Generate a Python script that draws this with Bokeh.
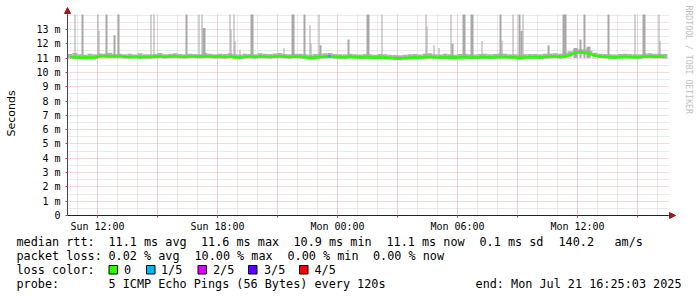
from bokeh.plotting import figure
from bokeh.models import (Range1d, SingleIntervalTicker, FixedTicker, Label, BoxAnnotation,
                          Arrow, NormalHead, LinearAxis, Grid)
from bokeh.embed import file_html
from bokeh.resources import INLINE

# ---------------- data (time in hours since Sun 00:00, values in ms) ----------------
T_START = 10.5          # first bin starts Sun 10:30
BIN_H = 0.25            # 15 minute bins

median_rtt = [
    11.08, 11.06, 11.04, 11.03, 11.05, 11.04,
    11.13, 11.15, 11.12, 11.14, 11.13,
    11.09, 11.08, 11.10, 11.07, 11.09, 11.08,
    11.10, 11.12, 11.09, 11.11, 11.13, 11.10, 11.09, 11.12, 11.11, 11.10, 11.13, 11.12, 11.09,
    11.10, 11.08, 11.11, 11.07, 11.04, 11.09, 11.10, 11.08, 11.12, 11.10, 11.09, 11.11, 11.13, 11.10, 11.08, 11.11,
    11.10, 11.06, 11.02, 11.05, 11.08, 11.10, 11.12, 11.09, 11.07, 11.06, 11.10, 11.08, 11.05, 11.07,
    11.06, 11.04, 11.07, 11.05, 11.02, 11.00, 10.98, 11.01, 11.03, 11.05, 11.04, 11.07, 11.09, 11.06, 11.04, 11.07,
    11.05, 11.03, 11.06, 11.08, 11.05, 11.04, 11.06, 11.08, 11.05, 11.07, 11.09, 11.08, 11.06, 11.05,
    11.02, 11.04, 11.06, 11.07, 11.05, 11.08, 11.10, 11.12, 11.09, 11.13, 11.22, 11.35,
    11.42, 11.38, 11.30, 11.18, 11.12, 11.10,
    11.07, 11.05, 11.08, 11.10, 11.08, 11.06, 11.07, 11.11, 11.12, 11.10, 11.11, 11.09,
]

smoke_high = [
    11.28, 11.35, 11.26, 11.24, 11.30, 11.27,
    11.32, 11.30, 11.38, 11.29, 11.31,
    11.26, 11.30, 11.25, 11.33, 11.27, 11.26,
    11.29, 11.35, 11.27, 11.30, 11.34, 11.28, 11.26, 11.31, 11.29, 11.27, 11.36, 11.30, 11.27,
    11.30, 11.28, 11.33, 11.27, 11.25, 11.31, 11.29, 11.26, 11.34, 11.30, 11.28, 11.32, 11.35, 11.29, 11.27, 11.30,
    11.31, 11.26, 11.24, 11.28, 11.30, 11.33, 11.36, 11.28, 11.26, 11.27, 11.31, 11.27, 11.25, 11.28,
    11.27, 11.24, 11.28, 11.26, 11.23, 11.21, 11.20, 11.24, 11.27, 11.29, 11.25, 11.30, 11.33, 11.27, 11.25, 11.30,
    11.27, 11.24, 11.29, 11.31, 11.26, 11.25, 11.28, 11.30, 11.26, 11.29, 11.32, 11.30, 11.27, 11.26,
    11.23, 11.26, 11.28, 11.29, 11.27, 11.30, 11.32, 11.34, 11.30, 11.36, 11.48, 11.58,
    11.62, 11.60, 11.52, 11.38, 11.30, 11.28,
    11.27, 11.25, 11.29, 11.31, 11.28, 11.26, 11.27, 11.32, 11.33, 11.30, 11.31, 11.28,
]

smoke_low = [
    10.98, 10.95, 10.94, 10.93, 10.95, 10.94,
    11.02, 11.04, 11.01, 11.03, 11.02,
    10.98, 10.97, 10.99, 10.96, 10.98, 10.97,
    10.99, 11.01, 10.98, 11.00, 11.02, 10.99, 10.98, 11.01, 11.00, 10.99, 11.02, 11.01, 10.98,
    10.99, 10.97, 11.00, 10.96, 10.93, 10.98, 10.99, 10.97, 11.01, 10.99, 10.98, 11.00, 11.02, 10.99, 10.97, 11.00,
    10.99, 10.95, 10.91, 10.94, 10.97, 10.99, 11.01, 10.98, 10.96, 10.95, 10.99, 10.97, 10.94, 10.96,
    10.95, 10.93, 10.96, 10.94, 10.91, 10.89, 10.87, 10.90, 10.92, 10.94, 10.93, 10.96, 10.98, 10.95, 10.93, 10.96,
    10.94, 10.92, 10.95, 10.97, 10.94, 10.93, 10.95, 10.97, 10.94, 10.96, 10.98, 10.97, 10.95, 10.94,
    10.91, 10.93, 10.95, 10.96, 10.94, 10.97, 10.99, 11.01, 10.98, 11.02, 11.10, 11.22,
    11.28, 11.25, 11.18, 11.06, 11.01, 10.99,
    10.96, 10.94, 10.97, 10.99, 10.97, 10.95, 10.96, 11.00, 11.01, 10.99, 11.00, 10.98,
]

# lost pings (of 5) per bin
loss = [
    0, 0, 0, 0, 0, 0, 0, 0, 0, 0, 0, 0, 0, 0, 0, 0, 0, 0, 0, 0,
    0, 0, 0, 0, 0, 0, 0, 0, 0, 0, 0, 0, 0, 0, 0, 0, 0, 0, 0, 0,
    0, 0, 0, 0, 0, 0, 0, 0, 0, 0, 0, 0, 1, 0, 0, 0, 0, 0, 0, 0,
    0, 0, 0, 0, 0, 0, 0, 0, 0, 0, 0, 0, 0, 0, 0, 0, 0, 0, 0, 0,
    0, 0, 0, 0, 0, 0, 0, 0, 0, 0, 0, 0, 0, 0, 0, 0, 0, 0, 0, 0,
    0, 0, 0, 0, 0, 0, 0, 0, 0, 0, 0, 0, 0, 0, 0, 0, 0, 0, 0, 0,
]

# slowest-ping spikes (smoke tops; 14.05 = reaches the top of the graph)
spike_start = [10.85, 11.20, 12.00, 12.05, 12.40, 12.80, 13.00, 14.65, 14.80, 16.40,
               17.05, 17.20, 17.25, 18.60, 18.65, 18.80, 18.85, 19.10, 19.65, 21.30,
               21.70, 22.30, 22.60, 22.65, 23.05, 23.10, 24.50, 25.45, 26.20, 28.40,
               28.45, 28.80, 29.05, 29.65, 29.70, 30.25, 30.65, 31.20, 32.10, 32.20,
               32.75, 33.05, 33.15, 33.25, 34.50, 35.25, 35.80, 36.10, 36.30, 36.45,
               37.50, 38.85, 39.25, 40.05, 40.10]
spike_end = [10.90, 11.30, 12.05, 12.10, 12.50, 12.90, 13.10, 14.70, 14.85, 16.50,
             17.10, 17.25, 17.40, 18.65, 18.70, 18.85, 18.90, 19.15, 19.80, 21.35,
             21.85, 22.40, 22.65, 22.70, 23.10, 23.20, 24.60, 25.60, 26.25, 28.45,
             28.50, 28.85, 29.10, 29.70, 29.80, 30.40, 30.80, 31.25, 32.20, 32.25,
             32.80, 33.15, 33.25, 33.30, 34.60, 35.45, 36.00, 36.20, 36.40, 36.65,
             37.60, 38.90, 39.40, 40.10, 40.15]
spike_top = [14.05, 14.05, 14.05, 12.9, 14.05, 12.6, 14.05, 14.05, 14.05, 14.05,
             14.05, 14.05, 13.1, 14.05, 13.0, 14.05, 12.2, 11.6, 14.05, 11.7,
             14.05, 14.05, 13.3, 12.0, 14.05, 11.9, 12.3, 14.05, 14.05, 14.05,
             13.2, 11.9, 11.7, 14.05, 12.0, 14.05, 14.05, 12.2, 14.05, 12.2,
             14.05, 14.05, 12.9, 14.05, 11.9, 14.05, 11.7, 12.3, 14.05, 11.8,
             14.05, 14.05, 14.05, 14.05, 12.2]

y_ticks = [0, 1, 2, 3, 4, 5, 6, 7, 8, 9, 10, 11, 12, 13]
y_tick_labels = ["0", "1 m", "2 m", "3 m", "4 m", "5 m", "6 m", "7 m", "8 m", "9 m",
                 "10 m", "11 m", "12 m", "13 m"]
y_minor = [0.5, 1.5, 2.5, 3.5, 4.5, 5.5, 6.5, 7.5, 8.5, 9.5, 10.5, 11.5, 12.5, 13.5, 14.0]
x_ticks = [12, 18, 24, 30, 36]
x_tick_labels = ["Sun 12:00", "Sun 18:00", "Mon 00:00", "Mon 06:00", "Mon 12:00"]
x_minor = [12, 15, 18, 21, 24, 27, 30, 33, 36, 39]

loss_palette = ["#26ff00", "#00b8ff", "#dd00ff", "#5e00ff", "#ff0000"]
loss_names = ["0", "1/5", "2/5", "3/5", "4/5"]

# legend rows: (text pieces, pixel x of each piece)
legend_rows = [
    (["median rtt:", "11.1 ms avg", "11.6 ms max", "10.9 ms min", "11.1 ms now",
      "0.1 ms sd", "140.2", "am/s"],
     [16, 108, 200.5, 293, 386, 479, 558, 614]),
    (["packet loss:", "0.02 % avg", "10.00 % max", "0.00 % min", "0.00 % now"],
     [16, 108, 194, 287, 372.5]),
    (["loss color:"], [16]),
    (["probe:", "5 ICMP Echo Pings (56 Bytes) every 120s"], [16, 108]),
]
end_text = "end: Mon Jul 21 16:25:03 2025"

# ---------------- layout constants (pixels) ----------------
W, H = 697, 297
FL, FR, FT, FB = 67, 668, 14, 215        # graph area edges
PX_PER_H = 20.0
Y_PX_PER_MS = 14.31
X_END = T_START + (FR - FL) / PX_PER_H
Y_TOP = (FB - FT) / Y_PX_PER_MS


def dx(px):
    return T_START + (px - FL) / PX_PER_H


def dy(py):
    return (FB - py) / Y_PX_PER_MS


MONO = "DejaVu Sans Mono"
LEG_FS = "11.8px"

p = figure(width=W, height=H, output_backend="svg", toolbar_location=None,
           x_range=Range1d(dx(0), dx(W)), y_range=Range1d(dy(H), dy(0)),
           x_axis_type=None, y_axis_type=None, min_border=0)
p.outline_line_color = None
p.background_fill_color = "white"
p.border_fill_color = "white"

# grids (limited to the graph area)
GRID_MAJOR = "#efb6b6"
GRID_MINOR = "#d4d4d4"
xgrid = Grid(dimension=0, ticker=SingleIntervalTicker(interval=3, num_minor_ticks=3),
             bounds=(T_START, X_END), cross_bounds=(0, Y_TOP),
             grid_line_color=GRID_MAJOR, grid_line_dash="1 1",
             minor_grid_line_color=GRID_MINOR, minor_grid_line_dash="1 1")
ygrid = Grid(dimension=1, ticker=FixedTicker(ticks=y_ticks, minor_ticks=y_minor),
             bounds=(0, Y_TOP), cross_bounds=(T_START, X_END),
             grid_line_color=GRID_MAJOR, grid_line_dash="1 1",
             minor_grid_line_color=GRID_MINOR, minor_grid_line_dash="1 1")
p.add_layout(xgrid)
p.add_layout(ygrid)

# axes placed on the graph edges
xax = LinearAxis(ticker=FixedTicker(ticks=x_ticks, minor_ticks=x_minor),
                 fixed_location=0, bounds=(T_START, X_END))
xax.major_label_overrides = {t: l for t, l in zip(x_ticks, x_tick_labels)}
xax.major_label_text_font = MONO
xax.major_label_text_font_size = "10px"
xax.major_label_text_color = "black"
xax.major_label_standoff = 3
xax.axis_line_color = "#222222"
xax.major_tick_line_color = "#c04040"
xax.major_tick_in = 0
xax.major_tick_out = 2
xax.minor_tick_line_color = "#c04040"
xax.minor_tick_in = 0
xax.minor_tick_out = 2
p.add_layout(xax, "below")

yax = LinearAxis(ticker=FixedTicker(ticks=y_ticks, minor_ticks=[]),
                 fixed_location=T_START, bounds=(0, Y_TOP))
yax.major_label_overrides = {t: l for t, l in zip(y_ticks, y_tick_labels)}
yax.major_label_text_font = MONO
yax.major_label_text_font_size = "10px"
yax.major_label_text_color = "black"
yax.major_label_standoff = 5
yax.axis_line_color = "#444444"
yax.major_tick_line_color = "#c04040"
yax.major_tick_in = 0
yax.major_tick_out = 2
yax.minor_tick_line_color = None
p.add_layout(yax, "left")

# smoke
n = len(median_rtt)
bin_left = [T_START + i * BIN_H for i in range(n)]
bin_right = [b + BIN_H for b in bin_left]
bin_mid = [b + BIN_H / 2 for b in bin_left]

p.quad(left=bin_left, right=bin_right, bottom=smoke_low, top=smoke_high,
       fill_color="#b0b0b0", line_color=None)
p.quad(left=spike_start, right=spike_end, bottom=11.0, top=spike_top,
       fill_color="#a8a8a8", line_color=None)

# median line coloured by loss
p.line(bin_mid, median_rtt, line_color=loss_palette[0], line_width=2.6)
lossy = [i for i in range(n) if loss[i] > 0]
p.segment(x0=[bin_left[i] + 0.05 for i in lossy], x1=[bin_right[i] - 0.1 for i in lossy],
          y0=[median_rtt[i] for i in lossy], y1=[median_rtt[i] for i in lossy],
          line_color=[loss_palette[loss[i]] for i in lossy], line_width=3)

# axis arrows
ARROW = "#a01818"
p.add_layout(Arrow(end=NormalHead(size=6, fill_color=ARROW, line_color=ARROW),
                   x_start=T_START, y_start=Y_TOP, x_end=T_START, y_end=dy(7),
                   line_color="#444444", line_width=1))
p.add_layout(Arrow(end=NormalHead(size=6, fill_color=ARROW, line_color=ARROW),
                   x_start=X_END, y_start=0, x_end=dx(675), y_end=0,
                   line_color="#222222", line_width=1))

# y axis title and watermark
p.add_layout(Label(x=dx(11), y=dy(113), text="Seconds", angle=1.5707963,
                   text_font="DejaVu Sans", text_font_size="11px", text_color="black",
                   text_align="center", text_baseline="middle"))
p.add_layout(Label(x=dx(688), y=dy(5), text="RRDTOOL / TOBI OETIKER", angle=-1.5707963,
                   text_font=MONO, text_font_size="8.2px", text_color="#c0c0c0",
                   text_align="left", text_baseline="middle"))

# legend text
row_y = [241, 255, 269, 283]
for (pieces, xs), ry in zip(legend_rows, row_y):
    for txt, px in zip(pieces, xs):
        p.add_layout(Label(x=dx(px), y=dy(ry), text=txt, text_font=MONO,
                           text_font_size=LEG_FS, text_color="black",
                           text_align="left", text_baseline="middle"))
p.add_layout(Label(x=dx(681), y=dy(283), text=end_text, text_font=MONO,
                   text_font_size=LEG_FS, text_color="black",
                   text_align="right", text_baseline="middle"))

box_left_px = [108.5, 146, 197.5, 248, 299]
name_left_px = [123.5, 160.5, 212.5, 263.5, 314]
for col, name, bl, nl in zip(loss_palette, loss_names, box_left_px, name_left_px):
    p.add_layout(BoxAnnotation(left=dx(bl), right=dx(bl + 8.5), top=dy(265), bottom=dy(273.5),
                               fill_color=col, fill_alpha=1, line_color="black", line_width=1,
                               line_alpha=1))
    p.add_layout(Label(x=dx(nl), y=dy(269), text=name, text_font=MONO,
                       text_font_size=LEG_FS, text_color="black",
                       text_align="left", text_baseline="middle"))

open("out.html", "w").write(file_html(p, INLINE))
